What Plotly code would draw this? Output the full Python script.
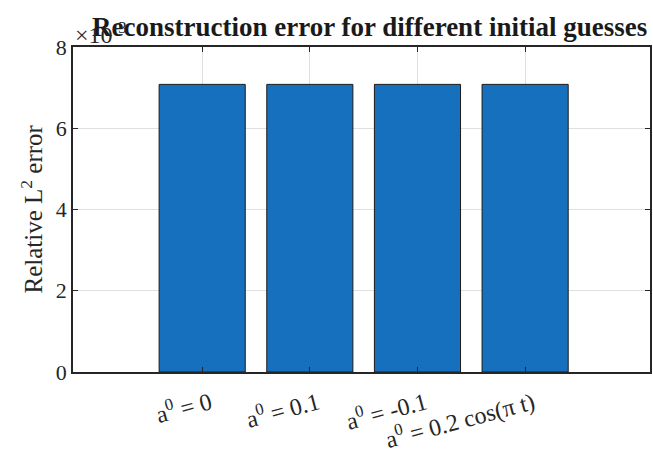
import plotly.graph_objects as go

# Initial guesses and the relative L2 reconstruction error for each
guess_labels = [
    "a<sup>0</sup> = 0",
    "a<sup>0</sup> = 0.1",
    "a<sup>0</sup> = -0.1",
    "a<sup>0</sup> = 0.2 cos(π t)",
]
guess_index = [1, 2, 3, 4]
rel_error = [7.08e-3, 7.08e-3, 7.08e-3, 7.08e-3]

scale = 1e3  # axis shows values in units of 10^-3
y_ticks = [0, 2, 4, 6, 8]

serif = "Liberation Serif, Times New Roman, serif"
axis_col = "#262626"
x_range = [-0.2, 5.16]
label_nudge = 0.075  # moves the rotated labels slightly right of their ticks

fig = go.Figure()
fig.add_trace(go.Bar(
    x=guess_index,
    y=[v * scale for v in rel_error],
    width=0.8,
    marker=dict(color="#1670BD", line=dict(color="#1a1a1a", width=1)),
))

fig.update_layout(
    width=653, height=461,
    margin=dict(l=73, r=1, t=47, b=89),
    paper_bgcolor="white", plot_bgcolor="white",
    showlegend=False,
    font=dict(family=serif, size=21, color=axis_col),
    title=dict(
        text="<b>Reconstruction error for different initial guesses</b>",
        x=0.514, xref="paper", xanchor="center",
        y=1, yref="paper", yanchor="bottom", pad=dict(b=11),
        font=dict(family=serif, size=27, color="#1a1a1a"),
    ),
    xaxis=dict(
        range=x_range,
        tickvals=guess_index,
        showticklabels=False,
        ticks="inside", ticklen=5, tickwidth=1, tickcolor=axis_col,
        showline=True, linecolor=axis_col, linewidth=1.5, mirror="ticks",
        showgrid=True, gridcolor="#e0e0e0", gridwidth=1,
        zeroline=False,
    ),
    # label-only axis carrying the rotated category names
    xaxis2=dict(
        overlaying="x", side="bottom", anchor="y",
        range=[x_range[0] - label_nudge, x_range[1] - label_nudge],
        tickvals=guess_index, ticktext=guess_labels,
        tickangle=-15,
        ticklabelstandoff=12,
        ticks="", showline=False, showgrid=False, zeroline=False,
        tickfont=dict(family=serif, size=24, color=axis_col),
    ),
    yaxis=dict(
        range=[0, 8],
        tickvals=y_ticks,
        ticks="inside", ticklen=5, tickwidth=1, tickcolor=axis_col,
        showline=True, linecolor=axis_col, linewidth=1.5, mirror="ticks",
        showgrid=True, gridcolor="#e0e0e0", gridwidth=1,
        zeroline=False,
        tickfont=dict(family=serif, size=22, color=axis_col),
    ),
)

# invisible trace so the label axis is drawn
fig.add_trace(go.Scatter(
    x=guess_index, y=[None] * len(guess_index), xaxis="x2", yaxis="y",
    mode="markers", hoverinfo="skip", showlegend=False,
))

# y-axis title drawn as a rotated annotation for exact placement
fig.add_annotation(
    text="Relative L<sup>2</sup> error", xref="paper", yref="paper",
    x=0, y=0.5, xanchor="center", yanchor="middle", xshift=-42,
    textangle=-90, showarrow=False,
    font=dict(family=serif, size=25, color=axis_col),
)

# exponent label for the y axis
fig.add_annotation(
    text="×10<sup>-3</sup>", xref="paper", yref="paper",
    x=0, y=1, xanchor="left", yanchor="bottom", yshift=-3,
    showarrow=False, font=dict(family=serif, size=24, color=axis_col),
)

fig.write_html("out.html")
